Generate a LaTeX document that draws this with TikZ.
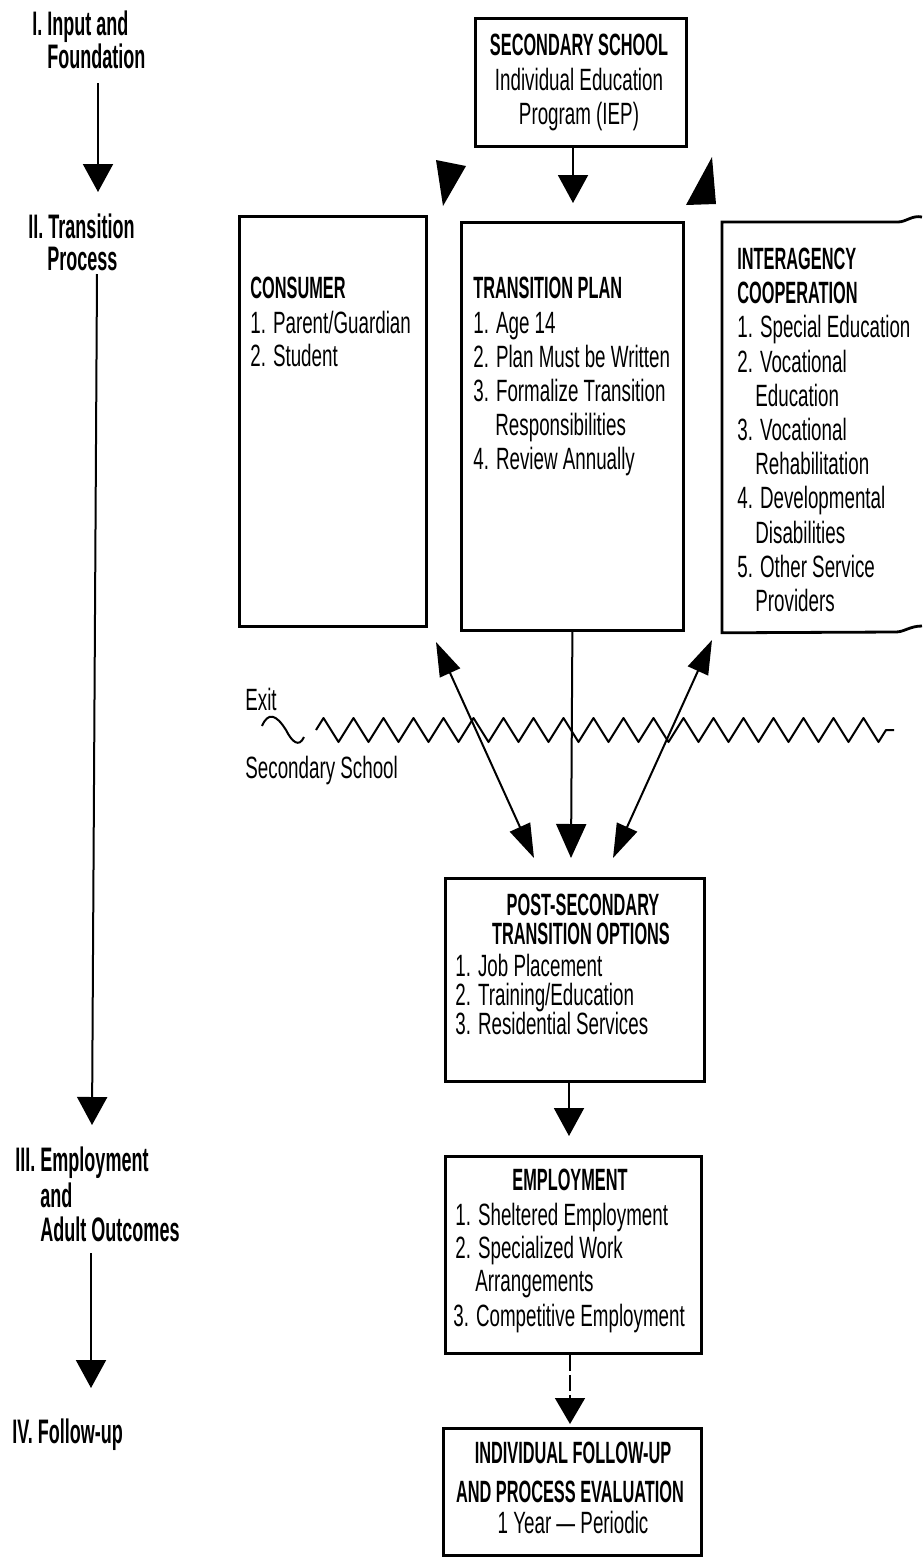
\documentclass[tikz,border=0pt]{standalone}
\usepackage{fontspec}
\setmainfont{Liberation Sans}
\newfontfamily\dgrf{Liberation Sans}[FakeStretch=0.61]
\newfontfamily\dghf{Liberation Sans}[FakeStretch=0.53]
\newcommand\dgbody{\dgrf\fontsize{15.4}{17}\selectfont}
\newcommand\dghead{\dghf\bfseries\fontsize{15.4}{17}\selectfont}
\newcommand\dgside{\dghf\bfseries\fontsize{17}{17}\selectfont}
\usetikzlibrary{arrows.meta,decorations.pathmorphing}
\begin{document}
\begin{tikzpicture}[x=0.5pt,y=-0.5pt,
  box/.style={draw, line width=1.4pt, inner sep=0, anchor=north west},
  tb/.style={inner sep=0, anchor=base west, font=\dgbody},
  th/.style={inner sep=0, anchor=base west, font=\dghead},
  tbc/.style={inner sep=0, anchor=base, font=\dgbody},
  thc/.style={inner sep=0, anchor=base, font=\dghead},
  side/.style={inner sep=0, anchor=base west, font=\dgside},
  bighead/.style={-{Triangle[width=15pt,length=14pt]}, line width=1pt},
  dblhead/.style={{Triangle[width=11pt,length=17pt]}-{Triangle[width=11pt,length=17pt]}, line width=1pt},
  midhead/.style={-{Triangle[width=15pt,length=17pt]}, line width=1pt}
]
\useasboundingbox (0,0) rectangle (922,1558);

% ---------- left stage labels ----------
\node[side] (L1a) at (32,35) {I. Input and};
\node[side] (L1b) at (47,68) {Foundation};
\node[side] (L2a) at (28,238) {II. Transition};
\node[side] (L2b) at (47,270) {Process};
\node[side] (L3a) at (15,1171) {III. Employment};
\node[side] (L3b) at (40,1207) {and};
\node[side] (L3c) at (40,1241) {Adult Outcomes};
\node[side] (L4) at (12,1443) {IV. Follow-up};

\coordinate (a1s) at (98,83);   \coordinate (a1e) at (98,192);
\coordinate (a2s) at (97,274);  \coordinate (a2e) at (92,1125);
\coordinate (a3s) at (91,1253); \coordinate (a3e) at (91,1388);
\draw[bighead] (a1s) -- (a1e);
\draw[bighead] (a2s) -- (a2e);
\draw[bighead] (a3s) -- (a3e);

% ---------- secondary school IEP ----------
\node[box, minimum width=105.5pt, minimum height=64pt] (sec) at (474,17) {};
\node[thc] (sec1) at (579,55) {SECONDARY SCHOOL};
\node[tbc] (sec2) at (579,90) {Individual Education};
\node[tbc] (sec3) at (579,124) {Program (IEP)};
\coordinate (secTip) at (573,203);
\draw[bighead] (secTip |- sec.south) -- (secTip);

% side arrowheads below IEP
\fill (436,160) -- (466,166) -- (443,206) -- cycle;
\fill (712,157) -- (716,204) -- (686,205) -- cycle;

% ---------- consumer ----------
\node[box, minimum width=93.5pt, minimum height=205pt] (cons) at (238,215) {};
\node[th] (c0) at (250,298) {CONSUMER};
\node[tb] (c1) at (250,333) {1. Parent/Guardian};
\node[tb] (c2) at (250,366) {2. Student};

% ---------- transition plan ----------
\node[box, minimum width=111pt, minimum height=204pt] (tplan) at (460,221) {};
\node[th] (t0) at (473,298) {TRANSITION PLAN};
\node[tb] (t1) at (473,333) {1. Age 14};
\node[tb] (t2) at (473,367) {2. Plan Must be Written};
\node[tb] (t3) at (473,401) {3. Formalize Transition};
\node[tb] (t3b) at (495,435) {Responsibilities};
\node[tb] (t4) at (473,469) {4. Review Annually};

% ---------- interagency ----------
\node[inner sep=0, anchor=north west, minimum width=100pt, minimum height=205pt] (inter) at (722,222) {};
\draw[line width=1.4pt] (922,217) .. controls (912,215) and (906,222) .. (898,222)
  -- (inter.north west) -- (inter.south west) -- (896,632)
  .. controls (904,632) and (910,626) .. (922,626);
\node[th] (i0) at (737,269) {INTERAGENCY};
\node[th] (i0b) at (737,303) {COOPERATION};
\node[tb] (i1) at (737,337) {1. Special Education};
\node[tb] (i2) at (737,372) {2. Vocational};
\node[tb] (i2b) at (755,406) {Education};
\node[tb] (i3) at (737,440) {3. Vocational};
\node[tb] (i3b) at (755,474) {Rehabilitation};
\node[tb] (i4) at (737,508) {4. Developmental};
\node[tb] (i4b) at (755,543) {Disabilities};
\node[tb] (i5) at (737,577) {5. Other Service};
\node[tb] (i5b) at (755,611) {Providers};

% ---------- exit line ----------
\node[tb] (exit) at (245,710) {Exit};
\node[tb] (ss) at (245,778) {Secondary School};
\draw[line width=1pt] (262,726) .. controls (268,712) and (276,714) .. (286,730)
  .. controls (292,742) and (299,748) .. (304,737);
\draw[line width=1pt, line join=round, decorate,
  decoration={zigzag, segment length=15pt, amplitude=6pt}] (316,730) -- (894,730);

% ---------- arrows to post-secondary ----------
\coordinate (cTip) at (436,642);
\coordinate (iTip) at (712,640);
\coordinate (pTipL) at (534,858);
\coordinate (pTipR) at (613,858);
\coordinate (pTipM) at (571,858);
\draw[dblhead] (cTip) -- (pTipL);
\draw[dblhead] (iTip) -- (pTipR);
\draw[midhead] (tplan.south) -- (pTipM);

% ---------- post-secondary ----------
\node[box, minimum width=129.5pt, minimum height=101.5pt] (post) at (444,877) {};
\node[thc] (p0) at (583,915) {POST-SECONDARY};
\node[thc] (p0b) at (581,944) {TRANSITION OPTIONS};
\node[tb] (p1) at (455,976) {1. Job Placement};
\node[tb] (p2) at (455,1005) {2. Training/Education};
\node[tb] (p3) at (455,1034) {3. Residential Services};
\coordinate (empTip) at (569,1136);
\draw[bighead] (empTip |- post.south) -- (empTip);

% ---------- employment ----------
\node[box, minimum width=128pt, minimum height=98.5pt] (emp) at (444,1155) {};
\node[thc] (e0) at (570,1190) {EMPLOYMENT};
\node[tb] (e1) at (455,1225) {1. Sheltered Employment};
\node[tb] (e2) at (455,1258) {2. Specialized Work};
\node[tb] (e2b) at (475,1291) {Arrangements};
\node[tb] (e3) at (453,1326) {3. Competitive Employment};
\coordinate (folTip) at (570,1424);
\draw[-{Triangle[width=15pt,length=13pt]}, line width=0.8pt, dash pattern=on 8pt off 2pt]
  (folTip |- emp.south) -- (folTip);

% ---------- follow-up ----------
\node[box, minimum width=129pt, minimum height=63.5pt] (fol) at (442,1427) {};
\node[thc] (f0) at (573,1463) {INDIVIDUAL FOLLOW-UP};
\node[thc] (f0b) at (570,1502) {AND PROCESS EVALUATION};
\node[tbc] (f1) at (573,1533) {1 Year — Periodic};
\end{tikzpicture}
\end{document}
